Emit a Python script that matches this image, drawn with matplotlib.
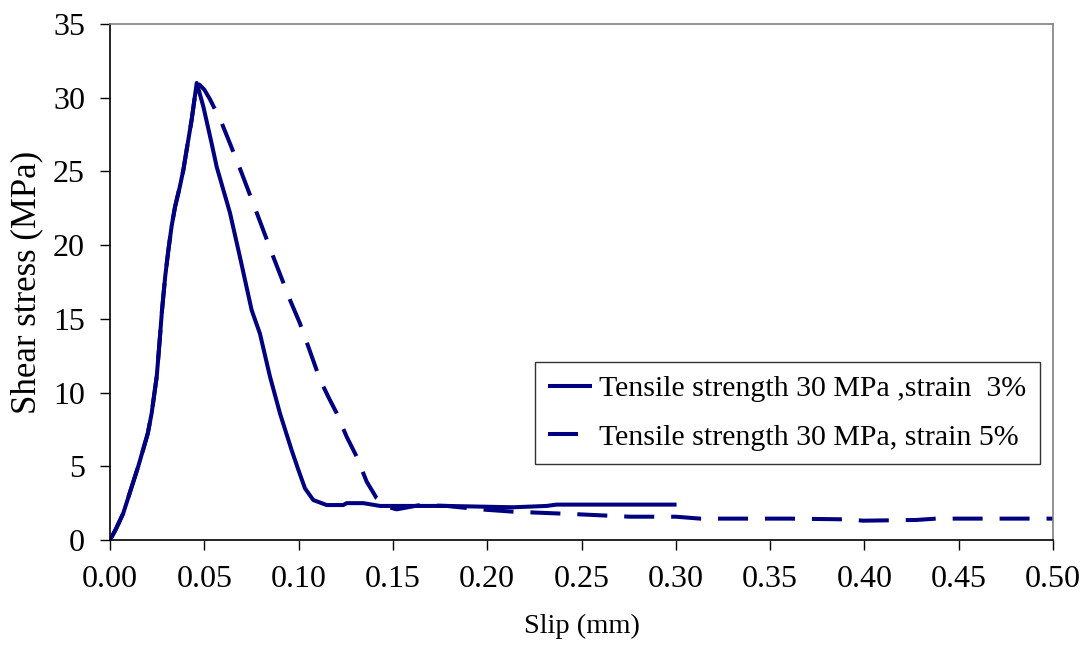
import matplotlib
matplotlib.use("Agg")
import matplotlib.pyplot as plt

# slip (mm) / shear stress (MPa)
slip_3 = [0, 0.003, 0.007, 0.015, 0.020, 0.0221, 0.0248, 0.0262, 0.0276, 0.0293, 0.031,
          0.0327, 0.0345, 0.0371, 0.0389, 0.0407, 0.0433,
          0.046, 0.0495, 0.0539, 0.0566, 0.0636, 0.0689, 0.0751, 0.0795, 0.0848, 0.0901,
          0.0963, 0.0999, 0.1034, 0.1078, 0.1149, 0.1237, 0.1255, 0.1343, 0.1432, 0.1785,
          0.2139, 0.2315, 0.2368, 0.3004]
stress_3 = [0, 0.7, 1.8, 5.0, 7.2, 8.6, 11.1, 13.3, 15.6, 17.9, 19.7,
            21.3, 22.6, 24.0, 25.1, 26.5, 28.5,
            31.0, 29.4, 26.9, 25.3, 22.2, 19.2, 15.6, 14.0, 11.1, 8.6,
            6.1, 4.75, 3.5, 2.71, 2.37, 2.37, 2.5, 2.5, 2.31, 2.31,
            2.22, 2.31, 2.4, 2.4]

slip_5 = [0, 0.003, 0.007, 0.015, 0.020, 0.0221, 0.0248, 0.0262, 0.0276, 0.0293, 0.031,
          0.0327, 0.0345, 0.0371, 0.0389, 0.0407, 0.0433,
          0.046, 0.0477, 0.050, 0.053, 0.0592, 0.0636, 0.0689, 0.0778, 0.0866, 0.0954, 0.1007,
          0.1052, 0.1113, 0.1158, 0.1202, 0.1255, 0.1308, 0.1361, 0.1414, 0.1467, 0.152,
          0.1644, 0.1785, 0.196, 0.2139, 0.249, 0.2757, 0.300, 0.3128, 0.36, 0.39,
          0.3994, 0.4277, 0.438, 0.50]
stress_5 = [0, 0.7, 1.8, 5.0, 7.2, 8.6, 11.1, 13.3, 15.6, 17.9, 19.7,
            21.3, 22.6, 24.0, 25.1, 26.5, 28.5,
            31.0, 30.85, 30.55, 29.9, 28.3, 26.9, 25.2, 22.2, 19.2, 16.3, 14.7,
            13.1, 10.9, 9.7, 8.6, 7.0, 5.65, 3.96, 2.83, 2.26, 2.08,
            2.37, 2.31, 2.08, 1.92, 1.74, 1.58, 1.58, 1.45, 1.45, 1.4,
            1.31, 1.36, 1.45, 1.45]

labels = ["Tensile strength 30 MPa ,strain  3%", "Tensile strength 30 MPa, strain 5%"]
x_ticks = [0.00, 0.05, 0.10, 0.15, 0.20, 0.25, 0.30, 0.35, 0.40, 0.45, 0.50]
y_ticks = [0, 5, 10, 15, 20, 25, 30, 35]

plt.rcParams['font.family'] = ['Liberation Serif', 'DejaVu Serif']
plt.rcParams['lines.scale_dashes'] = False

navy = '#000080'
fig = plt.figure(figsize=(10.91, 6.45), dpi=100)
ax = fig.add_axes([0.1008, 0.1628, 0.8644, 0.8])

ax.plot(slip_3, stress_3, color=navy, lw=2.9, label=labels[0], solid_capstyle='butt')
ax.plot(slip_5, stress_5, color=navy, lw=2.9, label=labels[1], dashes=(21.6, 12.2))

ax.set_xlim(0, 0.5)
ax.set_ylim(0, 35)
ax.set_xticks(x_ticks)
ax.set_xticklabels([f"{v:.2f}" for v in x_ticks])
ax.set_yticks(y_ticks)
ax.tick_params(direction='out', length=7, width=1, labelsize=23, pad=11)

for s in ['top', 'right']:
    ax.spines[s].set_color('#808080')
    ax.spines[s].set_linewidth(1.2)
for s in ['left', 'bottom']:
    ax.spines[s].set_color('black')
    ax.spines[s].set_linewidth(1.2)

ax.set_xlabel("Slip (mm)", fontsize=20.5, labelpad=14)
ax.set_ylabel("Shear stress (MPa)", fontsize=25, labelpad=7)

leg = ax.legend(loc='upper left', bbox_to_anchor=(535 / 1091, 1 - 362 / 645),
                bbox_transform=fig.transFigure, fontsize=21.5, frameon=True,
                fancybox=False, shadow=False, handlelength=1.45, handletextpad=0.25,
                borderpad=0.45, labelspacing=0.72, borderaxespad=0)
leg.get_frame().set_edgecolor('black')
leg.get_frame().set_linewidth(1.0)

fig.savefig("out.png", dpi=100)
